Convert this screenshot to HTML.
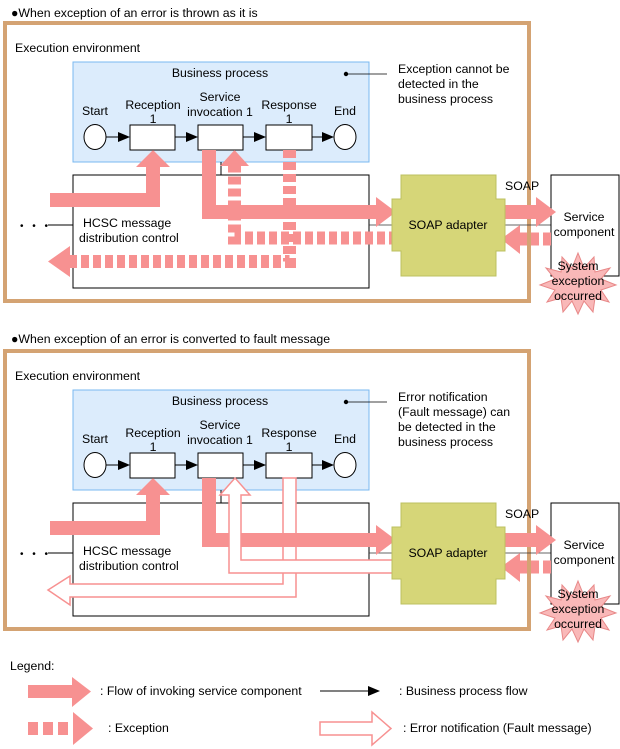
<!DOCTYPE html>
<html><head><meta charset="utf-8"><style>
html,body{margin:0;padding:0;background:#fff;}
svg{display:block;font-family:"Liberation Sans",Arial,sans-serif;font-size:12.3px;}
</style></head><body>
<svg width="620" height="749" viewBox="0 0 620 749" xmlns="http://www.w3.org/2000/svg">
<defs>
<g id="common">
  <rect x="5" y="23" width="524" height="278" fill="#fff" stroke="#d4a373" stroke-width="4"/>
  <text x="15" y="52">Execution environment</text>
  <rect x="73" y="62" width="296" height="100" fill="#dcecfc" stroke="#7ab8f0" stroke-width="1"/>
  <text x="220" y="77" text-anchor="middle">Business process</text>
  <circle cx="346" cy="74" r="2.2" fill="#000"/>
  <line x1="346" y1="74" x2="387" y2="74" stroke="#000" stroke-width="0.8"/>
  <text x="95" y="115" text-anchor="middle">Start</text>
  <text x="153" y="109" text-anchor="middle">Reception</text>
  <text x="153" y="123" text-anchor="middle">1</text>
  <text x="220" y="101" text-anchor="middle">Service</text>
  <text x="220" y="116" text-anchor="middle">invocation 1</text>
  <text x="289" y="109" text-anchor="middle">Response</text>
  <text x="289" y="123" text-anchor="middle">1</text>
  <text x="345" y="115" text-anchor="middle">End</text>
  <ellipse cx="95" cy="137" rx="11" ry="12.5" fill="#fff" stroke="#000"/>
  <ellipse cx="345" cy="137" rx="11" ry="12.5" fill="#fff" stroke="#000"/>
  <rect x="130" y="125" width="45" height="25" fill="#fff" stroke="#000"/>
  <rect x="198" y="125" width="45" height="25" fill="#fff" stroke="#000"/>
  <rect x="266" y="125" width="46" height="25" fill="#fff" stroke="#000"/>
  <g stroke="#000" stroke-width="1">
    <line x1="106" y1="137" x2="120" y2="137"/><line x1="175" y1="137" x2="188" y2="137"/>
    <line x1="243" y1="137" x2="256" y2="137"/><line x1="312" y1="137" x2="324" y2="137"/>
  </g>
  <g fill="#000">
    <polygon points="118,132 130,137 118,142"/><polygon points="186,132 198,137 186,142"/>
    <polygon points="254,132 266,137 254,142"/><polygon points="322,132 334,137 322,142"/>
  </g>
  <line x1="221" y1="162" x2="221" y2="175" stroke="#000"/>
  <rect x="73" y="175" width="296" height="113" fill="#fff" stroke="#000"/>
  <text x="83" y="227">HCSC message</text>
  <text x="79" y="242">distribution control</text>
  <text x="20" y="229" font-size="10" letter-spacing="3">• • •</text>
  <line x1="48" y1="225" x2="73" y2="225" stroke="#000"/>
  <line x1="369" y1="225" x2="551" y2="225" stroke="#333" stroke-width="0.8"/>
  <rect x="551" y="175" width="68" height="101" fill="#fff" stroke="#000"/>
  <text x="584" y="221" text-anchor="middle">Service</text>
  <text x="584" y="236" text-anchor="middle">component</text>
  <text x="505" y="190">SOAP</text>
</g>
<g id="adapter">
  <path d="M401 175 H496 V199 H505 V251 H496 V276 H401 V251 H392 V199 H401 Z" fill="#d6d678" stroke="#bcc060"/>
  <text x="448" y="229" text-anchor="middle">SOAP adapter</text>
</g>
<g id="burst">
  <polygon points="578,253 584,268 594,257 595,272 610,268 601,279 616,285 601,290 609,302 595,298 593,312 584,301 578,314 572,301 563,312 561,298 547,302 555,290 540,285 555,279 546,268 561,272 562,257 572,268" fill="#f9b8b8" stroke="#e88888"/>
  <text x="578" y="270" text-anchor="middle">System</text>
  <text x="578" y="285" text-anchor="middle">exception</text>
  <text x="578" y="300" text-anchor="middle">occurred</text>
</g>
<g id="thick">
  <path d="M50 200 H153 V166" fill="none" stroke="#f79191" stroke-width="14"/>
  <polygon points="136,167 170,167 153,150" fill="#f79191"/>
  <path d="M209 150 V212 H377" fill="none" stroke="#f79191" stroke-width="14"/>
  <polygon points="376,197 376,227 396,212" fill="#f79191"/>
  <path d="M500 212 H537" fill="none" stroke="#f79191" stroke-width="14"/>
  <polygon points="536,197 536,227 556,212" fill="#f79191"/>
  <path d="M551 239 H519" fill="none" stroke="#f79191" stroke-width="13" stroke-dasharray="8 4"/>
  <polygon points="520,225 520,254 501,239" fill="#f79191"/>
</g>
</defs>

<text x="11" y="17">●When exception of an error is thrown as it is</text>
<use href="#common"/>
<use href="#thick"/>
<path d="M397 238 H234.5 V165" fill="none" stroke="#f79191" stroke-width="13" stroke-dasharray="8 4"/>
<polygon points="220,166 249,166 234.5,150" fill="#f79191"/>
<path d="M289.5 150 V261.5 H69" fill="none" stroke="#f79191" stroke-width="13" stroke-dasharray="8 4"/>
<polygon points="70,246 70,277 48,261.5" fill="#f79191"/>
<use href="#adapter"/>
<use href="#burst"/>
<text x="398" y="73">Exception cannot be</text>
<text x="398" y="88">detected in the</text>
<text x="398" y="103">business process</text>

<text x="11" y="343">●When exception of an error is converted to fault message</text>
<g transform="translate(0,328)">
<use href="#common"/>
<polygon points="283,150 283,256 70,256 70,248 48,262 70,277 70,269 296,269 296,150" fill="#fff" stroke="#f79191" stroke-width="1.5"/>
<use href="#thick"/>
<polygon points="400,232 241,232 241,167 250,167 235,150 220,167 229,167 229,245 400,245" fill="#fff" stroke="#f79191" stroke-width="1.5"/>
<use href="#adapter"/>
<use href="#burst"/>
<text x="398" y="73">Error notification</text>
<text x="398" y="88">(Fault message) can</text>
<text x="398" y="103">be detected in the</text>
<text x="398" y="118">business process</text>
</g>

<text x="10" y="670">Legend:</text>
<path d="M28 691.5 H73" stroke="#f79191" stroke-width="13" fill="none"/>
<polygon points="72,677 72,707 91,691.5" fill="#f79191"/>
<text x="100" y="695">: Flow of invoking service component</text>
<line x1="320" y1="691" x2="370" y2="691" stroke="#000"/>
<polygon points="368,686 380,691 368,696" fill="#000"/>
<text x="399" y="695">: Business process flow</text>
<path d="M28 728.5 H73" stroke="#f79191" stroke-width="13" fill="none" stroke-dasharray="10 5"/>
<polygon points="73,712 73,745 93,728.5" fill="#f79191"/>
<text x="108" y="732">: Exception</text>
<polygon points="320,722 372,722 372,712 391,728.5 372,745 372,735 320,735" fill="#fff" stroke="#f79191" stroke-width="1.5"/>
<text x="403" y="732">: Error notification (Fault message)</text>
</svg>
</body></html>
